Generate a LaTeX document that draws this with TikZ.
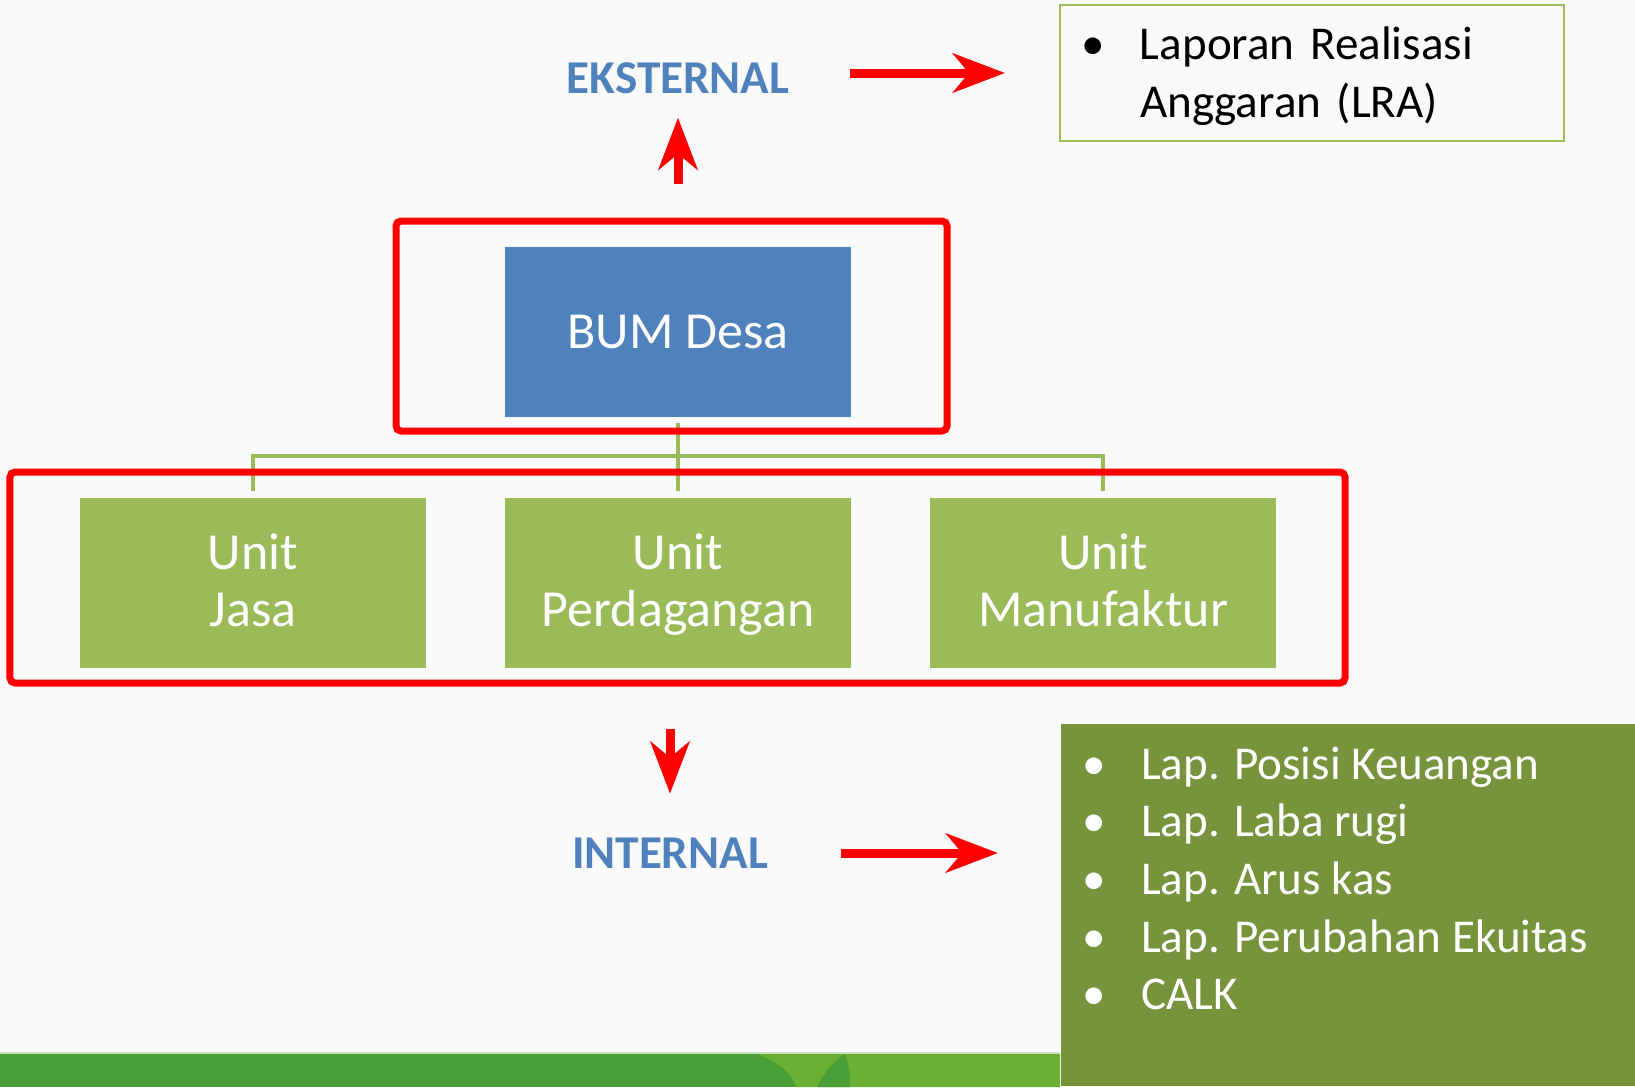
\documentclass[tikz,border=0pt]{standalone}
\usepackage{fontspec}
\setmainfont{Carlito}
\usetikzlibrary{arrows.meta,positioning,calc}
\definecolor{bumblue}{HTML}{4F81BD}
\definecolor{unitgreen}{HTML}{9BBB59}
\definecolor{olivepanel}{HTML}{77933C}
\definecolor{bandgreen}{HTML}{4A9E36}
\definecolor{bandlight}{HTML}{6CB033}
\definecolor{bgpaper}{HTML}{FAFAFA}
\newcommand{\unitlines}[2]{\rule{0pt}{0.45cm}#1\\#2\rule[-0.15cm]{0pt}{0pt}}
\newcommand{\bul}{\makebox[0.52cm][l]{\hspace{-0.07cm}\textbullet}}

\begin{document}
\begin{tikzpicture}[>=Stealth, node distance=0.79cm, semithick]
\tikzstyle{orgbox}=[rectangle, minimum width=3.46cm, minimum height=1.70cm, text=white,
 align=center, inner sep=0pt, font=\fontsize{14.8}{16.2}\selectfont]
\tikzstyle{unitbox}=[orgbox, fill=unitgreen]
\tikzstyle{redframe}=[rectangle, draw=red, line width=0.07cm, rounded corners=0.05cm, inner sep=0pt]
\tikzstyle{tree}=[draw=unitgreen, line width=0.04cm]
\tikzstyle{bigarrow}=[draw=red, line width=0.09cm, -{Stealth[length=5.2mm, width=3.9mm, inset=1.6mm]}]
\tikzstyle{heading}=[text=bumblue, font=\fontsize{13.4}{16}\selectfont\bfseries, inner sep=0pt]
\tikzstyle{listtext}=[align=left, inner sep=0pt, font=\fontsize{13.4}{16.4}\selectfont]

% paper and bottom band
\fill[bgpaper] (0,0) rectangle (16.35,10.87);
\useasboundingbox (0,0) rectangle (16.35,10.87);
\fill[bandgreen] (0,0) rectangle (10.6,0.34);
\fill[bandlight] (7.55,0.34) .. controls (7.8,0.25) and (7.93,0.12) .. (7.96,0) -- (10.6,0) -- (10.6,0.34) -- cycle;
\fill[bandgreen] (8.17,0) .. controls (8.24,0.15) and (8.36,0.28) .. (8.45,0.33) .. controls (8.5,0.2) and (8.5,0.1) .. (8.5,0) -- cycle;
\draw[white!70!bandgreen, line width=0.02cm] (0,0.34) -- (10.6,0.34);

% organisation
\node[orgbox, fill=bumblue] (bum) at (6.78,7.55) {BUM Desa};
\node[unitbox] (perd) [below=of bum] {\unitlines{Unit}{Perdagangan}};
\node[unitbox] (jasa) [left=0.77cm of perd] {\unitlines{Unit}{Jasa}};
\node[unitbox] (manuf) [right=0.77cm of perd] {\unitlines{Unit}{Manufaktur}};

\draw[tree] ([yshift=-0.5mm]bum.south) -- ([yshift=0.6mm]perd.north);
\draw[tree] ([yshift=0.6mm]jasa.north) -- ([yshift=4.1mm]jasa.north) -| ([yshift=0.6mm]manuf.north);

\node[redframe, minimum width=5.51cm, minimum height=2.10cm] (topframe) at (6.715,7.61) {};
\node[redframe, minimum width=13.35cm, minimum height=2.11cm] (unitframe) at (6.775,5.095) {};

% reports
\node[heading] (eks) at (6.78,10.09) {EKSTERNAL};
\node[heading] (int) at (6.70,2.34) {INTERNAL};

\node[listtext, draw=unitgreen, line width=0.02cm, minimum width=5.04cm, minimum height=1.36cm,
 text width=4.48cm, inner xsep=0.28cm] (lra) at (13.12,10.14)
 {\rule{0pt}{0.39cm}\bul Laporan Realisasi\\\hspace*{0.52cm}Anggaran (LRA)};

\node[fill=olivepanel, minimum width=5.75cm, minimum height=3.62cm, inner sep=0pt, anchor=south west] (panel) at (10.60,0) {};
\node[listtext, text=white, anchor=west] (intlist) at (10.88,2.085)
 {\bul Lap. Posisi Keuangan\\
  \bul Lap. Laba rugi\\
  \bul Lap. Arus kas\\
  \bul Lap. Perubahan Ekuitas\\
  \bul CALK};

% arrows
\draw[bigarrow] ([yshift=3.4mm]eks.south |- topframe.north) -- ([yshift=-2.3mm]eks.south);
\draw[bigarrow] ([xshift=6mm]eks.east |- lra.west) -- ([xshift=-5.4mm]lra.west);
\draw[bigarrow] ([yshift=-4.2mm]int.north |- unitframe.south) -- ([yshift=4.3mm]int.north);
\draw[bigarrow] ([xshift=7.2mm]int.east) -- ([xshift=-6.2mm]int.east -| panel.west);

\end{tikzpicture}
\end{document}
